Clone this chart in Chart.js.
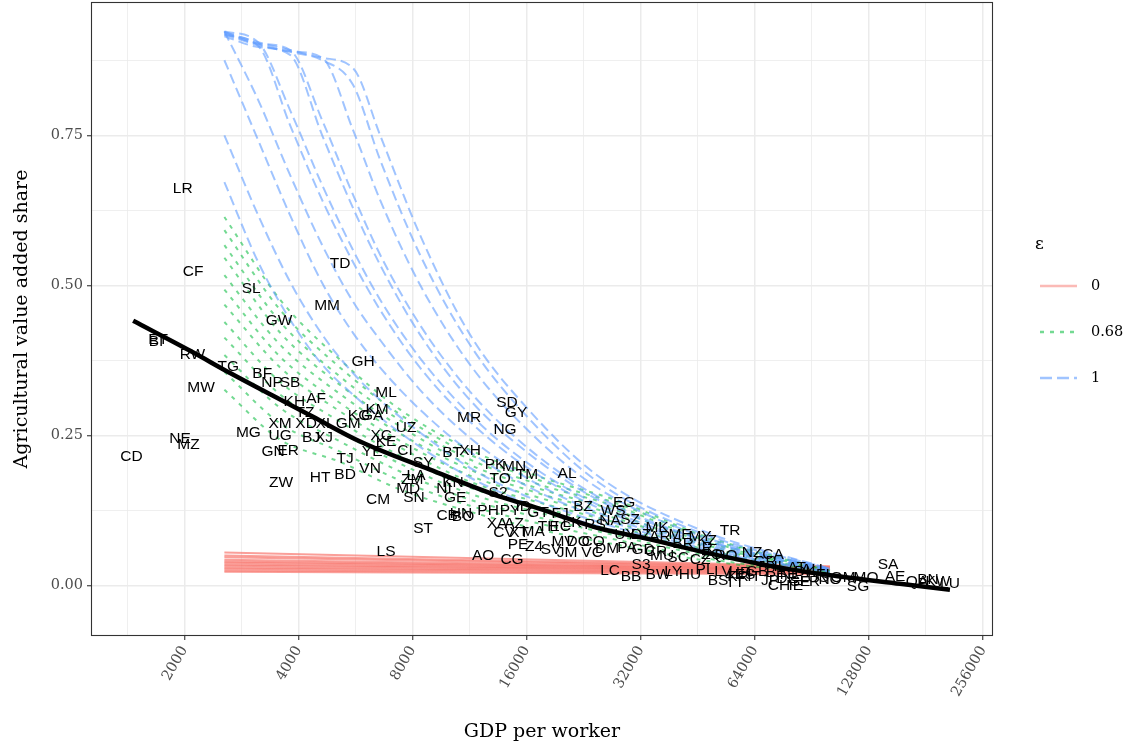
<!DOCTYPE html>
<html><head><meta charset="utf-8">
<script src="https://cdn.jsdelivr.net/npm/chart.js@4.4.1/dist/chart.umd.min.js"></script>
<style>html,body{margin:0;padding:0;background:#fff}canvas{display:block}</style>
</head><body>
<canvas id="c" width="1128" height="748"></canvas>
<script>
// ---------------- data ----------------
const xTickValues = [2000, 4000, 8000, 16000, 32000, 64000, 128000, 256000];
const xMinorValues = [1414, 2828, 5657, 11314, 22627, 45255, 90510, 181019];
const yTickValues = [0, 0.25, 0.5, 0.75];
const yMinorValues = [0.125, 0.375, 0.625, 0.875];
const xTitle = 'GDP per worker';
const yTitle = 'Agricultural value added share';
const legendTitle = 'ε';
const legendLabels = ['0', '0.68', '1'];

// epsilon = 0 (solid red)
const redX = [2550, 101000];
const redLines = [
  [0.055, 0.032], [0.050, 0.031], [0.047, 0.030], [0.043, 0.029],
  [0.040, 0.028], [0.038, 0.027], [0.035, 0.026], [0.033, 0.025],
  [0.030, 0.024], [0.028, 0.022], [0.025, 0.021], [0.023, 0.019]
];

// epsilon = 0.68 (dotted green)
const greenX = [2550, 3580, 5150, 7420, 11340, 17350, 28200, 45900, 101000];
const greenLines = [
  [0.614, 0.476, 0.376, 0.293, 0.226, 0.181, 0.140, 0.085, 0.025],
  [0.592, 0.459, 0.363, 0.285, 0.218, 0.175, 0.135, 0.082, 0.025],
  [0.567, 0.439, 0.348, 0.275, 0.210, 0.168, 0.130, 0.078, 0.023],
  [0.546, 0.421, 0.334, 0.265, 0.201, 0.161, 0.123, 0.075, 0.023],
  [0.517, 0.401, 0.319, 0.253, 0.193, 0.153, 0.116, 0.070, 0.023],
  [0.493, 0.381, 0.304, 0.241, 0.183, 0.146, 0.110, 0.067, 0.022],
  [0.468, 0.363, 0.290, 0.230, 0.173, 0.138, 0.103, 0.062, 0.022],
  [0.439, 0.339, 0.273, 0.216, 0.163, 0.130, 0.097, 0.058, 0.022],
  [0.413, 0.318, 0.256, 0.203, 0.153, 0.121, 0.090, 0.055, 0.020],
  [0.384, 0.296, 0.240, 0.190, 0.143, 0.113, 0.082, 0.052, 0.020],
  [0.356, 0.270, 0.223, 0.175, 0.133, 0.103, 0.075, 0.047, 0.018],
  [0.326, 0.243, 0.206, 0.160, 0.123, 0.093, 0.067, 0.043, 0.018]
];

// epsilon = 1 (dashed blue)
const blueX = [2550, 3130, 3800, 4620, 5570, 6570, 8370, 11340, 16340, 25000, 45900, 101000];
const blueLines = [
  [0.672, 0.539, 0.443, 0.368, 0.318, 0.280, 0.231, 0.180, 0.135, 0.098, 0.057, 0.022],
  [0.750, 0.617, 0.506, 0.418, 0.354, 0.309, 0.255, 0.196, 0.146, 0.105, 0.060, 0.023],
  [0.875, 0.742, 0.617, 0.504, 0.421, 0.363, 0.293, 0.223, 0.163, 0.113, 0.063, 0.023],
  [0.923, 0.809, 0.684, 0.567, 0.473, 0.409, 0.326, 0.246, 0.176, 0.120, 0.067, 0.025],
  [0.917, 0.899, 0.767, 0.642, 0.539, 0.459, 0.363, 0.273, 0.193, 0.128, 0.070, 0.025],
  [0.923, 0.905, 0.792, 0.667, 0.559, 0.476, 0.379, 0.285, 0.201, 0.133, 0.073, 0.025],
  [0.915, 0.897, 0.884, 0.750, 0.629, 0.534, 0.418, 0.309, 0.218, 0.141, 0.077, 0.027],
  [0.922, 0.903, 0.892, 0.775, 0.651, 0.551, 0.434, 0.323, 0.226, 0.146, 0.078, 0.027],
  [0.920, 0.902, 0.890, 0.879, 0.759, 0.642, 0.501, 0.368, 0.255, 0.160, 0.083, 0.027],
  [0.918, 0.900, 0.889, 0.875, 0.834, 0.709, 0.551, 0.401, 0.276, 0.170, 0.088, 0.028],
  [0.922, 0.905, 0.892, 0.879, 0.862, 0.750, 0.584, 0.418, 0.290, 0.180, 0.093, 0.028]
];

// fitted curve (black)
const fitGdp = [1465, 2071, 2640, 3428, 4371, 5816, 8898, 13613, 16336, 24992, 33860, 45880, 79120, 107400, 154560, 209400];
const fitShare = [0.441, 0.391, 0.354, 0.316, 0.281, 0.240, 0.193, 0.148, 0.133, 0.095, 0.077, 0.057, 0.027, 0.015, 0.003, -0.007];

// country labels
const labelCodes = [
  'LR','CF','TD','SL','MM','GW','ET','BI','RW','TG',
  'MW','GH','BF','NP','SB','KH','AF','TZ','ML','KM',
  'KG','GA','GM','XM','XD','XL','BJ','XJ','MG','UG',
  'NE','MZ','CD','GN','ER','TJ','HT','BD','ZW','VN',
  'XC','KE','UZ','CI','YE','SY','BT','XH','LA','ZM',
  'MD','CM','SN','ST','KN','NI','GE','CB','HN','BO',
  'PH','PY','S2','PK','MN','TO','TM','SD','GY','NG',
  'MR','AL','ID','GT','FJ','BZ','WS','EG','XA','AZ',
  'CV','XT','MA','TH','EC','LK','RS','NA','SZ','PE',
  'Z4','SV','MV','DO','CO','JM','VC','AO','CG','LS',
  'LC','BB','BW','S3','DM','PA','GD','CR','MU','SC',
  'LY','HU','PL','LV','HR','BS','TT','MK','UY','DZ',
  'AR','ME','MY','KZ','TR','IR','BR','ZQ','RO','NZ',
  'CA','GR','SA','AE','BN','QA','KW','LU','MO','OM',
  'SG','CH','IE','US','NO','DK','NL','AU','BE','IT',
  'IL','AT','FI','SE','JP','DE','FR','GB','ES','KR',
  'CZ'
];
const labelGdp = [
  1980, 2110, 5150, 3000, 4760, 3555, 1705, 1684, 2100, 2610,
  2213, 5920, 3210, 3407, 3801, 3900, 4450, 4160, 6810, 6450,
  5780, 6260, 5410, 3577, 4190, 4700, 4320, 4670, 2950, 3577,
  1948, 2050, 1450, 3430, 3760, 5310, 4561, 5310, 3600, 6180,
  6610, 6810, 7690, 7640, 6260, 8530, 10170, 11344, 8170, 7980,
  7790, 6490, 8070, 8530, 10230, 9690, 10360, 9870, 10740, 10870,
  12660, 14466, 13450, 13210, 14820, 13613, 16040, 14200, 15000, 14030,
  11280, 20450, 15660, 17150, 19601, 22540, 27050, 28920, 13370, 14820,
  13950, 15280, 16640, 18220, 19601, 21080, 24250, 26559, 29990, 15190,
  16740, 18560, 19960, 21870, 23950, 20450, 23810, 12280, 14640, 6810,
  26559, 30170, 35550, 32060, 26080, 29450, 32460, 35110, 36420, 40150,
  38950, 43170, 47300, 52760, 58490, 51180, 56750, 35330, 29090, 32060,
  35980, 40630, 45880, 47880, 55050, 47300, 41380, 49350, 53730, 62920,
  71470, 68090, 143700, 150000, 183200, 171400, 194600, 209400, 125800, 109400,
  119800, 74130, 82060, 93920, 101060, 86800, 79120, 90550, 72790, 63690,
  74580, 82560, 96810, 84200, 70180, 77820, 89460, 64860, 60300, 57790,
  45880
];
const labelShare = [
  0.661, 0.522, 0.536, 0.494, 0.466, 0.441, 0.409, 0.406, 0.384, 0.364,
  0.329, 0.373, 0.353, 0.338, 0.338, 0.306, 0.311, 0.288, 0.321, 0.293,
  0.283, 0.283, 0.270, 0.270, 0.270, 0.270, 0.246, 0.246, 0.255, 0.250,
  0.245, 0.235, 0.215, 0.223, 0.225, 0.211, 0.180, 0.185, 0.171, 0.195,
  0.250, 0.240, 0.263, 0.225, 0.223, 0.205, 0.221, 0.225, 0.183, 0.176,
  0.161, 0.143, 0.146, 0.095, 0.171, 0.161, 0.146, 0.116, 0.120, 0.115,
  0.125, 0.125, 0.155, 0.201, 0.198, 0.178, 0.185, 0.304, 0.288, 0.260,
  0.280, 0.186, 0.131, 0.121, 0.120, 0.131, 0.125, 0.138, 0.103, 0.103,
  0.088, 0.088, 0.090, 0.098, 0.098, 0.105, 0.101, 0.108, 0.110, 0.068,
  0.065, 0.060, 0.073, 0.073, 0.073, 0.055, 0.055, 0.050, 0.043, 0.057,
  0.025, 0.015, 0.018, 0.035, 0.062, 0.063, 0.060, 0.057, 0.050, 0.047,
  0.023, 0.018, 0.027, 0.023, 0.022, 0.008, 0.005, 0.097, 0.085, 0.085,
  0.082, 0.085, 0.082, 0.075, 0.092, 0.063, 0.070, 0.052, 0.050, 0.055,
  0.052, 0.040, 0.035, 0.015, 0.010, 0.007, 0.007, 0.003, 0.013, 0.013,
  -0.002, 0.000, 0.000, 0.013, 0.010, 0.023, 0.018, 0.027, 0.022, 0.015,
  0.032, 0.030, 0.018, 0.007, 0.008, 0.012, 0.007, 0.023, 0.018, 0.015,
  0.043
];

// ---------------- styles ----------------
const RED = 'rgba(248,118,109,0.7)';
const GREEN = 'rgba(0,186,56,0.55)';
const BLUE = 'rgba(97,156,255,0.6)';
const RED_LEG = 'rgba(248,118,109,0.5)';
const GREEN_DASH = [4, 6];
const BLUE_DASH = [10, 5];
const SERIF = "'DejaVu Serif', serif";
const SANS = "'Liberation Sans', Arial, sans-serif";

Chart.defaults.font.family = SERIF;

const toPts = (xs, ys) => xs.map((x, i) => ({ x: x, y: ys[i] }));
const datasets = [];

datasets.push({
  label: 'fit', data: toPts(fitGdp, fitShare), borderColor: '#000', borderWidth: 4.5,
  pointRadius: 0, fill: false, cubicInterpolationMode: 'monotone', order: 0
});
datasets.push({
  label: 'labels', isLabels: true, data: toPts(labelGdp, labelShare), showLine: false,
  pointRadius: 0, borderWidth: 0, order: 1
});
blueLines.forEach((ys, k) => datasets.push({
  label: 'e1_' + k, data: toPts(blueX, ys), borderColor: BLUE, borderWidth: 2,
  borderDash: BLUE_DASH, pointRadius: 0, fill: false, cubicInterpolationMode: 'monotone', order: 2
}));
greenLines.forEach((ys, k) => datasets.push({
  label: 'e068_' + k, data: toPts(greenX, ys), borderColor: GREEN, borderWidth: 2,
  borderDash: GREEN_DASH, pointRadius: 0, fill: false, cubicInterpolationMode: 'monotone', order: 3
}));
redLines.forEach((ys, k) => datasets.push({
  label: 'e0_' + k, data: toPts(redX, ys), borderColor: RED, borderWidth: 2,
  pointRadius: 0, fill: false, order: 4
}));

const isMinor = c => c && c.tick && c.tick.minor;

const overlay = {
  id: 'overlay',
  afterDatasetDraw(chart, args) {
    const ds = chart.data.datasets[args.index];
    if (!ds.isLabels) return;
    const ctx = chart.ctx;
    ctx.save();
    ctx.font = '15.5px ' + SANS;
    ctx.fillStyle = '#000';
    ctx.textAlign = 'center';
    ctx.textBaseline = 'middle';
    args.meta.data.forEach((pt, i) => ctx.fillText(labelCodes[i], pt.x, pt.y));
    ctx.restore();
  },
  afterDraw(chart) {
    const ctx = chart.ctx, a = chart.chartArea;
    ctx.save();
    ctx.strokeStyle = '#333333';
    ctx.lineWidth = 1.1;
    ctx.strokeRect(a.left + 0.5, a.top + 0.5, a.right - a.left - 1, a.bottom - a.top - 1);
    // legend
    ctx.fillStyle = '#000';
    ctx.textAlign = 'left';
    ctx.textBaseline = 'middle';
    ctx.font = '17px ' + SERIF;
    ctx.fillText(legendTitle, 1035, 245);
    const cols = [RED_LEG, GREEN, BLUE];
    const dashes = [[], GREEN_DASH, [12, 5]];
    const ys = [286, 332, 378];
    legendLabels.forEach((lab, i) => {
      ctx.setLineDash(dashes[i]);
      ctx.strokeStyle = cols[i];
      ctx.lineWidth = 2.6;
      ctx.beginPath();
      ctx.moveTo(1040, ys[i]);
      ctx.lineTo(1077, ys[i]);
      ctx.stroke();
      ctx.setLineDash([]);
      ctx.font = '14.5px ' + SERIF;
      ctx.fillText(lab, 1091, ys[i]);
    });
    ctx.restore();
  }
};

new Chart(document.getElementById('c'), {
  type: 'line',
  data: { datasets: datasets },
  options: {
    responsive: false,
    animation: false,
    devicePixelRatio: 1,
    layout: { padding: { left: 0, right: 135, top: 2, bottom: 0 } },
    plugins: { legend: { display: false }, tooltip: { enabled: false } },
    scales: {
      x: {
        type: 'logarithmic', min: 1134, max: 272000, bounds: 'data',
        afterBuildTicks: s => {
          const t = xTickValues.map(v => ({ value: v, minor: false }))
            .concat(xMinorValues.map(v => ({ value: v, minor: true })));
          t.sort((p, q) => p.value - q.value);
          s.ticks = t;
        },
        afterFit: s => { s.height = 112; s.paddingLeft = 0; s.paddingRight = 0; },
        ticks: {
          autoSkip: false, minRotation: 60, maxRotation: 60, padding: 3,
          color: '#4d4d4d', font: { size: 14.5 },
          callback: (v, i, t) => (t[i] && t[i].minor) ? '' : String(v)
        },
        grid: {
          color: '#ebebeb',
          lineWidth: c => isMinor(c) ? 0.8 : 1.5,
          tickColor: c => isMinor(c) ? 'rgba(0,0,0,0)' : '#333333',
          tickLength: 4, tickWidth: 1.1
        },
        border: { display: false },
        title: { display: true, text: xTitle, color: '#000', font: { size: 19 }, padding: { top: 0, bottom: 4.6 } }
      },
      y: {
        type: 'linear', min: -0.084, max: 0.972, bounds: 'data',
        afterBuildTicks: s => {
          const t = yTickValues.map(v => ({ value: v, minor: false }))
            .concat(yMinorValues.map(v => ({ value: v, minor: true })));
          t.sort((p, q) => p.value - q.value);
          s.ticks = t;
        },
        afterFit: s => { s.width = 91; s.paddingTop = 0; s.paddingBottom = 0; },
        ticks: {
          padding: 4, color: '#4d4d4d', font: { size: 14.5 },
          callback: (v, i, t) => (t[i] && t[i].minor) ? '' : Number(v).toFixed(2)
        },
        grid: {
          color: '#ebebeb',
          lineWidth: c => isMinor(c) ? 0.8 : 1.5,
          tickColor: c => isMinor(c) ? 'rgba(0,0,0,0)' : '#333333',
          tickLength: 4, tickWidth: 1.1
        },
        border: { display: false },
        title: { display: true, text: yTitle, color: '#000', font: { size: 19 }, padding: { top: 10.6, bottom: 0 } }
      }
    }
  },
  plugins: [overlay]
});
</script>
</body></html>
